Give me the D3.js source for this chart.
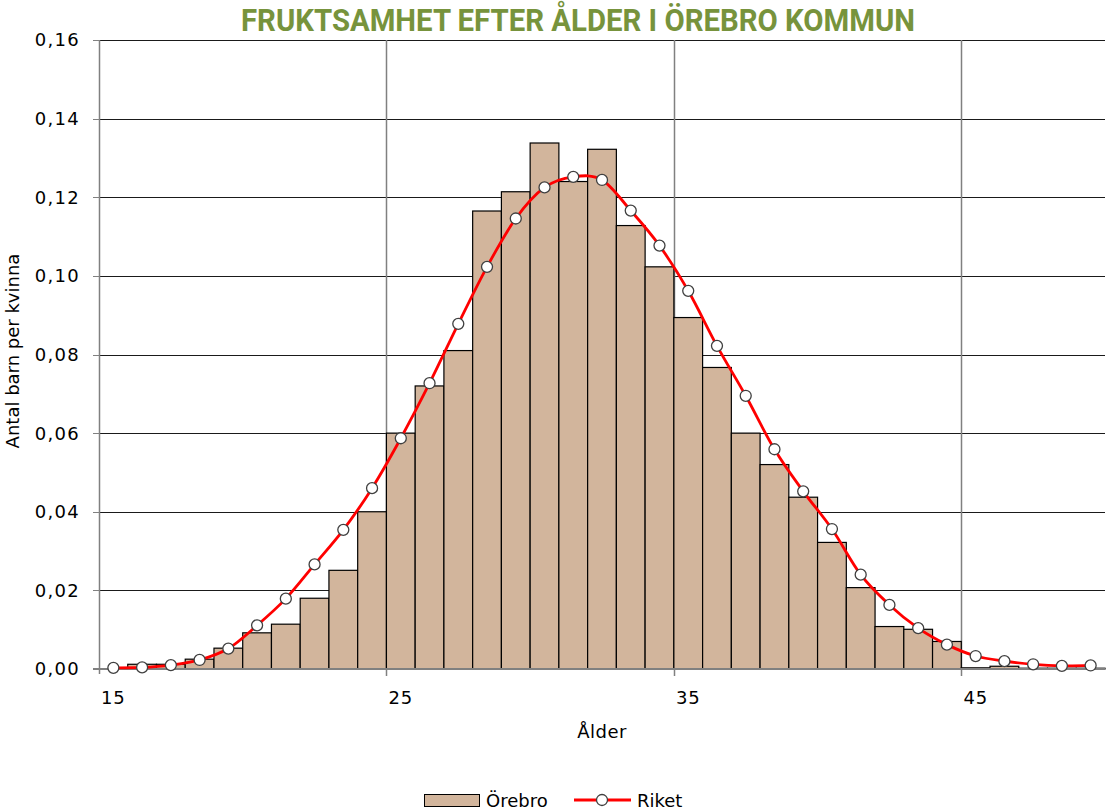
<!DOCTYPE html>
<html>
<head>
<meta charset="utf-8">
<script src="https://cdn.jsdelivr.net/npm/d3@7"></script>
<style>
  body { margin: 0; background: #fff; }
  text { font-family: "DejaVu Sans", "Liberation Sans", Arial, sans-serif; fill: #000; }
</style>
</head>
<body>
<div id="chart"></div>
<script>
// Åldrar (kategorier)
const ages = [15, 16, 17, 18, 19, 20, 21, 22, 23, 24, 25, 26, 27, 28, 29, 30, 31, 32,
  33, 34, 35, 36, 37, 38, 39, 40, 41, 42, 43, 44, 45, 46, 47, 48, 49];

// Örebro (staplar)
const orebro = [0.0001, 0.0012, 0.0012, 0.0025, 0.0053, 0.0092, 0.0114, 0.0180, 0.0251,
  0.0400, 0.0600, 0.0720, 0.0810, 0.1165, 0.1214, 0.1338, 0.1240, 0.1322, 0.1128,
  0.1023, 0.0894, 0.0767, 0.0600, 0.0520, 0.0437, 0.0322, 0.0207, 0.0108, 0.0101,
  0.0070, 0.0003, 0.0007, 0.0002, 0.0002, 0.0002];

// Riket (linje)
const riket = [0.0003, 0.0004, 0.0010, 0.0023, 0.0052, 0.0111, 0.0179, 0.0266, 0.0354,
  0.0460, 0.0587, 0.0727, 0.0878, 0.1023, 0.1146, 0.1225, 0.1252, 0.1244, 0.1166,
  0.1077, 0.0962, 0.0822, 0.0695, 0.0559, 0.0452, 0.0356, 0.0240, 0.0163, 0.0104,
  0.0062, 0.0033, 0.0020, 0.0012, 0.0008, 0.0009];

const yTicks = [0, 0.02, 0.04, 0.06, 0.08, 0.10, 0.12, 0.14, 0.16];
const xLabels = [15, 25, 35, 45];

const width = 1106;
const height = 811;
const margin = { top: 40, right: 1, bottom: 142, left: 99 };

const svg = d3.select('#chart').append('svg')
  .attr('width', width)
  .attr('height', height);

const x = d3.scaleBand()
  .domain(ages)
  .range([margin.left, width - margin.right])
  .paddingInner(0)
  .paddingOuter(0);

const y = d3.scaleLinear()
  .domain([0, 0.16])
  .range([height - margin.bottom, margin.top]);

const fmt = v => d3.format('.2f')(v).replace('.', ',');

// horizontal gridlines
svg.append('g')
  .selectAll('line')
  .data(yTicks.slice(1))
  .enter().append('line')
    .attr('x1', margin.left)
    .attr('x2', width - margin.right)
    .attr('y1', d => Math.round(y(d)) + 0.5)
    .attr('y2', d => Math.round(y(d)) + 0.5)
    .attr('stroke', '#1a1a1a')
    .attr('stroke-width', 1);

// vertical gridlines at 25, 35, 45
svg.append('g')
  .selectAll('line')
  .data(xLabels.slice(1))
  .enter().append('line')
    .attr('x1', d => Math.round(x(d)) + 0.5)
    .attr('x2', d => Math.round(x(d)) + 0.5)
    .attr('y1', y(0.16))
    .attr('y2', y(0) + 7)
    .attr('stroke', '#808080')
    .attr('stroke-width', 1.5);

// bars
svg.append('g')
  .selectAll('rect')
  .data(ages)
  .enter().append('rect')
    .attr('x', d => x(d))
    .attr('width', x.bandwidth())
    .attr('y', (d, i) => y(orebro[i]))
    .attr('height', (d, i) => y(0) - y(orebro[i]))
    .attr('fill', '#d2b59c')
    .attr('stroke', '#000')
    .attr('stroke-width', 1.2);

// axes
const axisG = svg.append('g');
axisG.append('line')
  .attr('x1', margin.left + 0.5).attr('x2', margin.left + 0.5)
  .attr('y1', y(0.16)).attr('y2', y(0) + 5)
  .attr('stroke', '#808080').attr('stroke-width', 1.5);
axisG.append('line')
  .attr('x1', margin.left - 6).attr('x2', width - margin.right)
  .attr('y1', y(0)).attr('y2', y(0))
  .attr('stroke', '#808080').attr('stroke-width', 2);

axisG.selectAll('.ytick')
  .data(yTicks)
  .enter().append('line')
    .attr('class', 'ytick')
    .attr('x1', margin.left - 6).attr('x2', margin.left)
    .attr('y1', d => Math.round(y(d)) + 0.5)
    .attr('y2', d => Math.round(y(d)) + 0.5)
    .attr('stroke', '#808080');

axisG.selectAll('.ylab')
  .data(yTicks)
  .enter().append('text')
    .attr('class', 'ylab')
    .attr('x', 80)
    .attr('y', d => y(d))
    .attr('dy', '0.36em')
    .attr('text-anchor', 'end')
    .style('font-size', '18px')
    .style('letter-spacing', '1.3px')
    .text(fmt);

axisG.selectAll('.xlab')
  .data(xLabels)
  .enter().append('text')
    .attr('class', 'xlab')
    .attr('x', d => x(d) + x.bandwidth() / 2)
    .attr('y', 704)
    .attr('text-anchor', 'middle')
    .style('font-size', '18px')
    .style('letter-spacing', '0.8px')
    .text(d => d);

// axis titles
svg.append('text')
  .attr('x', 602)
  .attr('y', 738)
  .attr('text-anchor', 'middle')
  .style('font-size', '18px')
  .style('letter-spacing', '0.5px')
  .text('Ålder');

svg.append('text')
  .attr('transform', 'translate(19,351) rotate(-90)')
  .attr('text-anchor', 'middle')
  .style('font-size', '18px')
  .text('Antal barn per kvinna');

// title
svg.append('text')
  .attr('x', 578)
  .attr('y', 31)
  .attr('text-anchor', 'middle')
  .attr('textLength', 674)
  .attr('lengthAdjust', 'spacingAndGlyphs')
  .style('font-family', 'Roboto, "Liberation Sans", sans-serif')
  .style('font-weight', '700')
  .style('font-size', '31px')
  .style('fill', '#77933c')
  .text('FRUKTSAMHET EFTER ÅLDER I ÖREBRO KOMMUN');

// line
const line = d3.line()
  .x((d, i) => x(ages[i]) + x.bandwidth() / 2)
  .y(d => y(d))
  .curve(d3.curveCatmullRom.alpha(0));

svg.append('path')
  .datum(riket)
  .attr('d', line)
  .attr('fill', 'none')
  .attr('stroke', '#ff0000')
  .attr('stroke-width', 2.8);

svg.append('g')
  .selectAll('circle')
  .data(riket)
  .enter().append('circle')
    .attr('cx', (d, i) => x(ages[i]) + x.bandwidth() / 2)
    .attr('cy', d => y(d))
    .attr('r', 5.5)
    .attr('fill', '#fff')
    .attr('stroke', '#404040')
    .attr('stroke-width', 1.3);

// legend
const legend = svg.append('g');
legend.append('rect')
  .attr('x', 424.5).attr('y', 794.5)
  .attr('width', 55).attr('height', 12)
  .attr('fill', '#d2b59c')
  .attr('stroke', '#000');
legend.append('text')
  .attr('x', 486).attr('y', 807)
  .style('font-size', '18px')
  .text('Örebro');
legend.append('line')
  .attr('x1', 574).attr('x2', 631)
  .attr('y1', 800).attr('y2', 800)
  .attr('stroke', '#ff0000').attr('stroke-width', 2.8);
legend.append('circle')
  .attr('cx', 602).attr('cy', 800).attr('r', 5.5)
  .attr('fill', '#fff').attr('stroke', '#404040').attr('stroke-width', 1.3);
legend.append('text')
  .attr('x', 637).attr('y', 807)
  .style('font-size', '18px')
  .text('Riket');
</script>
</body>
</html>
